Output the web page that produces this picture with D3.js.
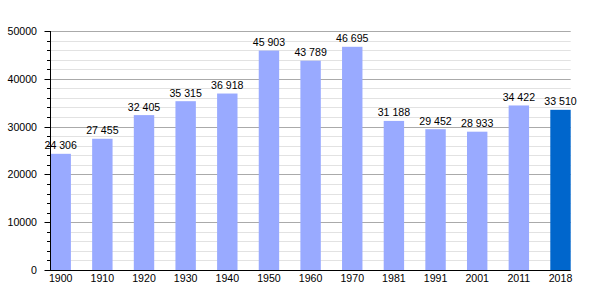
<!DOCTYPE html>
<html><head><meta charset="utf-8">
<script src="https://cdn.jsdelivr.net/npm/d3@7"></script>
<style>body{margin:0;background:#fff;} text{font-family:"Liberation Sans",Arial,sans-serif;}</style>
</head><body>
<svg id="c" width="600" height="300"></svg>
<script>
const years = ["1900","1910","1920","1930","1940","1950","1960","1970","1981","1991","2001","2011","2018"];
const population = [24306,27455,32405,35315,36918,45903,43789,46695,31188,29452,28933,34422,33510];
const highlight = ["2018"];
const yTicks = [0,10000,20000,30000,40000,50000];

(function(){
const svg = d3.select("#c");
const L = 50.5, R = 570.7, T = 31, B = 270;
const FS = 10.6;
const x = d3.scaleBand().domain(years).range([L, R]).paddingInner(0.51).paddingOuter(0);
const y = d3.scaleLinear().domain([0, 50000]).range([B, T]);
const py = d => Math.round(y(d)) + 0.5;

const minor = d3.range(0, 50001, 2000).filter(v => v % 10000 !== 0);
svg.append("g").selectAll("line").data(minor).join("line")
  .attr("x1", L).attr("x2", R).attr("y1", py).attr("y2", py)
  .attr("stroke", "#e2e2e2").attr("stroke-width", 1);
svg.append("g").selectAll("line").data(yTicks.filter(d => d > 0)).join("line")
  .attr("x1", L).attr("x2", R).attr("y1", py).attr("y2", py)
  .attr("stroke", "#aaaaaa").attr("stroke-width", 1);

svg.append("g").selectAll("rect").data(years).join("rect")
  .attr("x", d => x(d)).attr("width", x.bandwidth())
  .attr("y", (d, i) => y(population[i])).attr("height", (d, i) => B - y(population[i]))
  .attr("fill", d => highlight.includes(d) ? "#0066cc" : "#99aaff");

const fmt = v => d3.format(",")(v).replace(/,/g, " ");
svg.append("g").selectAll("text").data(years).join("text")
  .attr("x", d => x(d) + x.bandwidth() / 2)
  .attr("y", (d, i) => y(population[i]) - 4.5)
  .attr("text-anchor", "middle").attr("font-size", FS).attr("fill", "#000")
  .text((d, i) => fmt(population[i]));

const ya = svg.append("g");
ya.append("line").attr("x1", 50.5).attr("x2", 50.5).attr("y1", T).attr("y2", B + 0.5).attr("stroke", "#000");
ya.selectAll("line.mi").data(minor).join("line").attr("class", "mi")
  .attr("x1", 47).attr("x2", 50.5).attr("y1", py).attr("y2", py).attr("stroke", "#000");
ya.selectAll("line.ma").data(yTicks).join("line").attr("class", "ma")
  .attr("x1", 44.5).attr("x2", 50.5).attr("y1", py).attr("y2", py).attr("stroke", "#000");
ya.selectAll("text").data(yTicks).join("text")
  .attr("x", 37).attr("y", d => y(d) + 4).attr("text-anchor", "end").attr("font-size", FS).attr("fill", "#000")
  .text(d => d);

const xa = svg.append("g");
xa.append("line").attr("x1", 50).attr("x2", R).attr("y1", B + 0.5).attr("y2", B + 0.5).attr("stroke", "#000");
xa.selectAll("text").data(years).join("text")
  .attr("x", d => x(d) + x.bandwidth() / 2).attr("y", 282)
  .attr("text-anchor", "middle").attr("font-size", FS).attr("fill", "#000")
  .text(d => d);
})();
</script>
</body></html>
